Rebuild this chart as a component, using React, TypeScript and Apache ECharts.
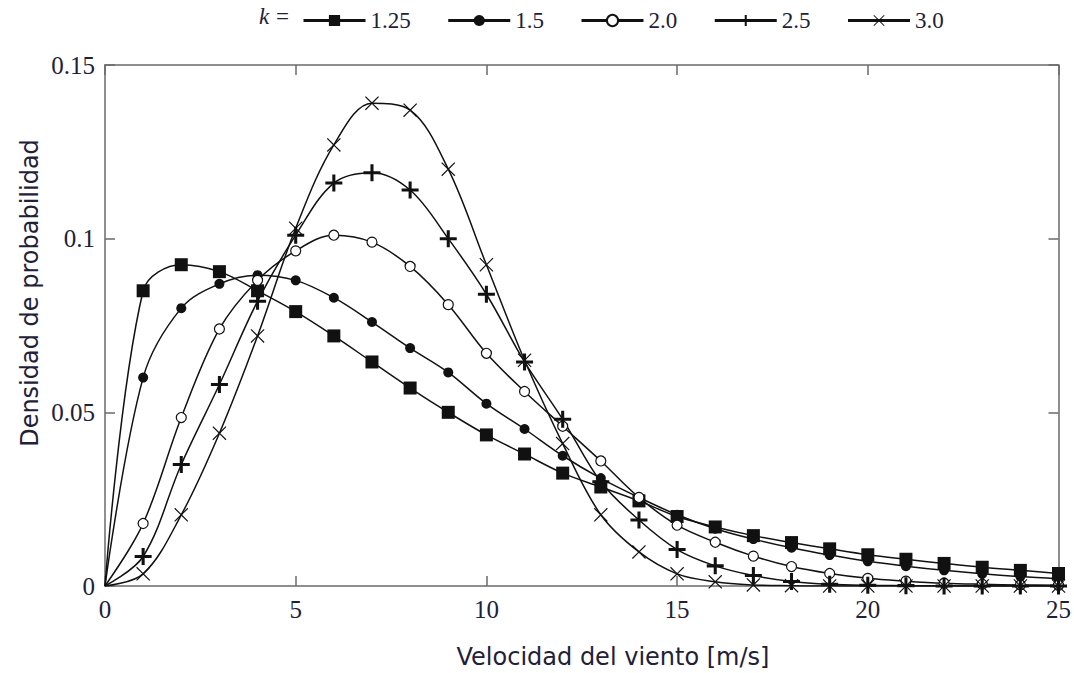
import React, { useEffect, useRef } from "react";
import * as echarts from "echarts";

const speeds = [0, 1, 2, 3, 4, 5, 6, 7, 8, 9, 10, 11, 12, 13, 14, 15, 16, 17, 18, 19, 20, 21, 22, 23, 24, 25];

const k125 = [0, 0.085, 0.0925, 0.0905, 0.085, 0.079, 0.072, 0.0645, 0.057, 0.05, 0.0435, 0.038, 0.0325, 0.0285, 0.0245, 0.02, 0.017, 0.0145, 0.0125, 0.0107, 0.009, 0.0077, 0.0065, 0.0054, 0.0045, 0.0036];
const k15 = [0, 0.06, 0.08, 0.087, 0.0895, 0.088, 0.083, 0.076, 0.0685, 0.0615, 0.0525, 0.0452, 0.0375, 0.031, 0.0255, 0.0205, 0.0165, 0.0135, 0.011, 0.0089, 0.0071, 0.0057, 0.0045, 0.0035, 0.0027, 0.0021];
const k20 = [0, 0.018, 0.0485, 0.074, 0.088, 0.0965, 0.101, 0.099, 0.092, 0.081, 0.067, 0.056, 0.046, 0.036, 0.0255, 0.0175, 0.0126, 0.0086, 0.0056, 0.0036, 0.0022, 0.0014, 0.0008, 0.0005, 0.0003, 0.0002];
const k25 = [0, 0.0085, 0.035, 0.058, 0.082, 0.101, 0.116, 0.119, 0.114, 0.1, 0.084, 0.0645, 0.048, 0.03, 0.019, 0.0105, 0.0058, 0.003, 0.0013, 0.0005, 0.0002, 0.0001, 0, 0, 0, 0];
const k30 = [0, 0.0035, 0.0205, 0.044, 0.072, 0.103, 0.127, 0.139, 0.137, 0.12, 0.0925, 0.065, 0.041, 0.0205, 0.0098, 0.0035, 0.0012, 0.0003, 0.0001, 0, 0, 0, 0, 0, 0, 0];

const seriesNames = ["1.25", "1.5", "2.0", "2.5", "3.0"];
const xTitle = "Velocidad del viento [m/s]";
const yTitle = "Densidad de probabilidad";

const PLUS = "path://M4.1,0H5.9V4.1H10V5.9H5.9V10H4.1V5.9H0V4.1H4.1Z";
const CROSS = "path://M0.6,0L5,4.4L9.4,0L10,0.6L5.6,5L10,9.4L9.4,10L5,5.6L0.6,10L0,9.4L4.4,5L0,0.6Z";

const SERIF = "Liberation Serif";
const SANS = "DejaVu Sans";
const INK = "#111";
const TXT = "#1e2138";

function toData(vals: number[]) {
  return speeds.map((x, i) => (i === 0 ? { value: [x, vals[i]], symbol: "none" } : [x, vals[i]]));
}

export default function App() {
  const ref = useRef<HTMLDivElement>(null);
  useEffect(() => {
    document.body.style.margin = "0";
    const chart = echarts.init(ref.current!, undefined, { renderer: "svg" });
    const base = {
      type: "line",
      smooth: 0.35,
      lineStyle: { color: INK, width: 1.5 },
      z: 3,
    };
    const axisLine = () => ({ show: true, onZero: false, lineStyle: { color: "#6a6a6a", width: 1.5 } });
    const tick = () => ({ show: true, inside: true, length: 10, lineStyle: { color: "#6a6a6a", width: 1.5 } });
    chart.setOption({
      animation: false,
      backgroundColor: "#fff",
      grid: { left: 105, right: 12, top: 65, bottom: 87 },
      legend: {
        top: 4,
        left: 297,
        itemWidth: 62,
        itemHeight: 14,
        itemGap: 36,
        data: seriesNames,
        textStyle: { fontFamily: SERIF, fontSize: 23, color: TXT },
        lineStyle: { width: 3 },
      },
      xAxis: [
        {
          type: "value",
          min: 0,
          max: 25,
          interval: 5,
          axisLine: axisLine(),
          axisTick: tick(),
          splitLine: { show: false },
          axisLabel: { fontFamily: SERIF, fontSize: 25, color: TXT, margin: 11 },
        },
        {
          type: "value",
          position: "top",
          min: 0,
          max: 25,
          interval: 5,
          axisLine: axisLine(),
          axisTick: tick(),
          splitLine: { show: false },
          axisLabel: { show: false },
        },
      ],
      yAxis: [
        {
          type: "value",
          min: 0,
          max: 0.15,
          interval: 0.05,
          axisLine: axisLine(),
          axisTick: tick(),
          splitLine: { show: false },
          axisLabel: { fontFamily: SERIF, fontSize: 25, color: TXT, margin: 10 },
        },
        {
          type: "value",
          position: "right",
          min: 0,
          max: 0.15,
          interval: 0.05,
          axisLine: axisLine(),
          axisTick: tick(),
          splitLine: { show: false },
          axisLabel: { show: false },
        },
      ],
      graphic: [
        {
          type: "text",
          left: 259,
          top: 5,
          style: { text: "k", font: `italic 23px "${SERIF}"`, fill: TXT },
        },
        {
          type: "text",
          left: 276,
          top: 5,
          style: { text: "=", font: `23px "${SERIF}"`, fill: TXT },
        },
        {
          type: "text",
          x: 30,
          y: 293,
          rotation: Math.PI / 2,
          style: { text: yTitle, font: `24px "${SANS}"`, fill: TXT, align: "center", verticalAlign: "middle" },
        },
        {
          type: "text",
          x: 613,
          y: 657,
          style: { text: xTitle, font: `24px "${SANS}"`, fill: TXT, align: "center", verticalAlign: "middle" },
        },
      ],
      series: [
        {
          ...base,
          name: seriesNames[0],
          data: toData(k125),
          symbol: "rect",
          symbolSize: 13,
          itemStyle: { color: INK },
        },
        {
          ...base,
          name: seriesNames[1],
          data: toData(k15),
          symbol: "circle",
          symbolSize: 10,
          itemStyle: { color: INK },
        },
        {
          ...base,
          name: seriesNames[2],
          data: toData(k20),
          symbol: "circle",
          symbolSize: 10,
          itemStyle: { color: "#fff", borderColor: INK, borderWidth: 1.2 },
        },
        {
          ...base,
          name: seriesNames[3],
          data: toData(k25),
          symbol: PLUS,
          symbolSize: 17,
          itemStyle: { color: INK },
        },
        {
          ...base,
          name: seriesNames[4],
          data: toData(k30),
          symbol: CROSS,
          symbolSize: 14,
          itemStyle: { color: INK },
        },
      ],
    });
    return () => chart.dispose();
  }, []);
  return <div ref={ref} style={{ width: 1074, height: 673 }} />;
}
